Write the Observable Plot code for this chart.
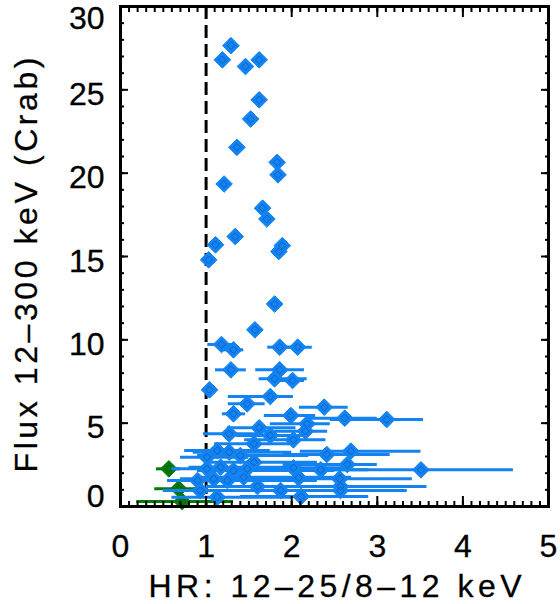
<!DOCTYPE html>
<html><head><meta charset="utf-8">
<script src="https://cdn.jsdelivr.net/npm/d3@7"></script>
<script src="https://cdn.jsdelivr.net/npm/@observablehq/plot@0.6"></script>
<style>body{margin:0;background:#fff} svg{display:block}</style>
</head><body><div id="chart"></div>
<script>
// ---- data ----
const blueHR   = [1.29,1.19,1.46,1.62,1.62,1.52,1.36,1.83,1.84,1.21,1.66,1.71,1.34,1.11,1.89,1.85,1.03,1.80,1.57,
                  1.18,1.32,1.86,2.07,1.29,1.86,1.80,2.01,1.04,1.75,1.48,1.32,2.38,1.99,2.62,3.11,2.18,2.16,2.02,1.27,1.62,
                  1.75,1.56,2.41,2.69,1.13,1.27,1.40,1.01,1.56,3.51,2.02,2.34,2.65,1.01,1.17,1.32,1.48,2.56,2.08,0.90,
                  1.09,1.25,1.44,2.57,1.87,0.93,1.13,2.11,2.57,1.60];
const blueFlux = [27.65,26.8,26.4,26.8,24.4,23.25,21.55,20.65,19.9,19.35,17.9,17.25,16.2,15.7,15.65,15.3,14.8,12.15,10.6,
                  9.72,9.40,9.56,9.56,8.20,8.20,7.66,7.56,7.00,6.60,6.16,5.56,5.96,5.46,5.30,5.22,4.96,4.52,4.00,4.36,4.72,
                  4.26,3.76,3.12,3.32,3.36,3.26,3.06,2.96,2.66,2.20,2.32,2.20,2.52,2.26,2.36,2.16,2.26,1.66,1.72,1.56,
                  1.66,1.56,1.76,1.20,0.96,0.96,0.56,0.60,0.96,1.20];
const blueLo   = [1.25,1.15,1.42,1.58,1.58,1.48,1.32,1.79,1.80,1.17,1.62,1.67,1.30,1.07,1.85,1.81,0.99,1.76,1.53,
                  1.02,1.18,1.72,1.86,1.11,1.58,1.62,1.86,1.00,1.26,1.26,1.19,2.09,1.68,2.20,2.45,1.75,1.62,1.45,0.97,1.25,
                  1.35,1.10,1.90,2.10,0.75,0.85,0.90,0.70,1.00,2.45,1.10,1.50,1.90,0.60,0.80,0.90,0.95,1.60,1.20,0.55,
                  0.70,0.85,0.90,1.60,1.00,0.50,0.60,1.40,1.90,1.00];
const blueHi   = [1.33,1.23,1.50,1.66,1.66,1.56,1.40,1.87,1.88,1.25,1.70,1.75,1.38,1.15,1.93,1.89,1.07,1.84,1.61,
                  1.30,1.44,2.00,2.24,1.47,2.15,2.18,2.15,1.08,2.02,1.69,1.46,2.66,2.28,3.00,3.54,2.45,2.42,2.40,1.67,2.05,
                  2.20,2.05,3.15,3.51,1.75,2.00,2.20,1.50,2.30,4.59,2.60,2.90,3.00,1.80,2.00,2.50,2.60,3.41,2.60,1.60,
                  1.90,2.30,2.70,3.58,3.35,1.50,2.00,2.90,3.20,2.30];

const greenHR   = [0.565,0.68,0.72];
const greenFlux = [2.26,1.06,0.30];
const greenLo   = [0.42,0.40,0.19];
const greenHi   = [0.70,0.93,1.32];

const refHR  = [1];                       // dashed reference line
const xMajor = [0,1,2,3,4,5];
const xMinor = d3.range(0,51).map(d=>d/10);
const yMajor = [0,5,10,15,20,25,30];
const yMinor = d3.range(0,31);

const xLabel = "HR: 12–25/8–12 keV";
const yLabel = "Flux 12–300 keV (Crab)";

const BLUE = "#1283f0", BLUE_IN = "#0a62c8", GREEN = "#037a03";

const blue  = blueHR.map((d,i)=>({hr:d, flux:blueFlux[i], lo:blueLo[i], hi:blueHi[i]}));
const green = greenHR.map((d,i)=>({hr:d, flux:greenFlux[i], lo:greenLo[i], hi:greenHi[i]}));

const tickAxis = (dim, anchor, ticks, size) =>
  (dim==="x"?Plot.axisX:Plot.axisY)({anchor, ticks, tickSize:-size, fill:"none", stroke:"black", strokeWidth:2, label:null});

const plot = Plot.plot({
  width:560, height:604,
  marginLeft:120, marginRight:12, marginTop:6, marginBottom:98,
  style:{fontFamily:"'Liberation Sans', Arial, sans-serif", fontSize:"32px", background:"white", color:"black"},
  x:{domain:[0,5]},
  y:{domain:[0,30]},
  marks:[
    Plot.ruleX(refHR, {stroke:"black", strokeWidth:3, strokeDasharray:"13,6"}),
    Plot.ruleY(green, {y:"flux", x1:"lo", x2:"hi", stroke:GREEN, strokeWidth:3}),
    Plot.dot(green, {x:"hr", y:"flux", symbol:"diamond2", r:7.5, fill:GREEN, stroke:GREEN, strokeWidth:1}),
    Plot.dot(green, {x:"hr", y:"flux", symbol:"diamond2", r:3.4, fill:"none", stroke:"#015a01", strokeWidth:1}),
    Plot.ruleY(blue, {y:"flux", x1:"lo", x2:"hi", stroke:BLUE, strokeWidth:3}),
    Plot.dot(blue, {x:"hr", y:"flux", symbol:"diamond2", r:7.5, fill:BLUE, stroke:BLUE, strokeWidth:1}),
    Plot.dot(blue, {x:"hr", y:"flux", symbol:"diamond2", r:3.4, fill:"none", stroke:BLUE_IN, strokeWidth:1}),
    // labels
    Plot.axisX({anchor:"bottom", ticks:xMajor, tickSize:0, tickPadding:28, fontSize:32, tickFormat:d=>String(d),
                label:xLabel, labelAnchor:"center", labelArrow:"none"}),
    Plot.axisY({anchor:"left", ticks:yMajor, tickSize:0, tickPadding:16, dy:5, fontSize:32, tickFormat:d=>String(d),
                label:yLabel, labelAnchor:"center", labelArrow:"none"}),
    // inward ticks on all four sides
    tickAxis("x","bottom",xMajor,10), tickAxis("x","bottom",xMinor,5),
    tickAxis("x","top",xMajor,10),    tickAxis("x","top",xMinor,5),
    tickAxis("y","left",yMajor,8),    tickAxis("y","left",yMinor,4),
    tickAxis("y","right",yMajor,8),   tickAxis("y","right",yMinor,4),
    Plot.frame({stroke:"black", strokeWidth:3})
  ]
});
document.getElementById("chart").appendChild(plot);

// ---- fine text placement to match the reference ----
const svg = d3.select(plot);
svg.selectAll('g[aria-label="y-axis tick label"] text').each(function(){
  const t = d3.select(this), s = t.text(), tr = t.attr("transform") || "";
  if (s === String(yMajor[yMajor.length-1])) t.attr("transform", tr + " translate(0,7)");
  if (s === String(yMajor[0])) t.attr("transform", tr + " translate(0,-15)");
});
const yl = svg.select('g[aria-label="y-axis label"]');
yl.attr("transform", null);
yl.select("text").attr("transform","translate(37,265) rotate(-90)").attr("text-anchor","middle")
  .attr("dy","0").attr("x",null).attr("y",null).attr("textLength",415).attr("lengthAdjust","spacing");
const xl = svg.select('g[aria-label="x-axis label"]');
xl.attr("transform", null);
xl.select("text").attr("transform","translate(335,597)").attr("text-anchor","middle")
  .attr("dy","0").attr("x",null).attr("y",null).attr("textLength",373).attr("lengthAdjust","spacing");
// slightly heavier glyphs, like the reference's raster font
svg.selectAll('g[aria-label^="x-axis"] text, g[aria-label^="y-axis"] text')
  .attr("stroke","black").attr("stroke-width",0.3);
</script>
</body></html>
